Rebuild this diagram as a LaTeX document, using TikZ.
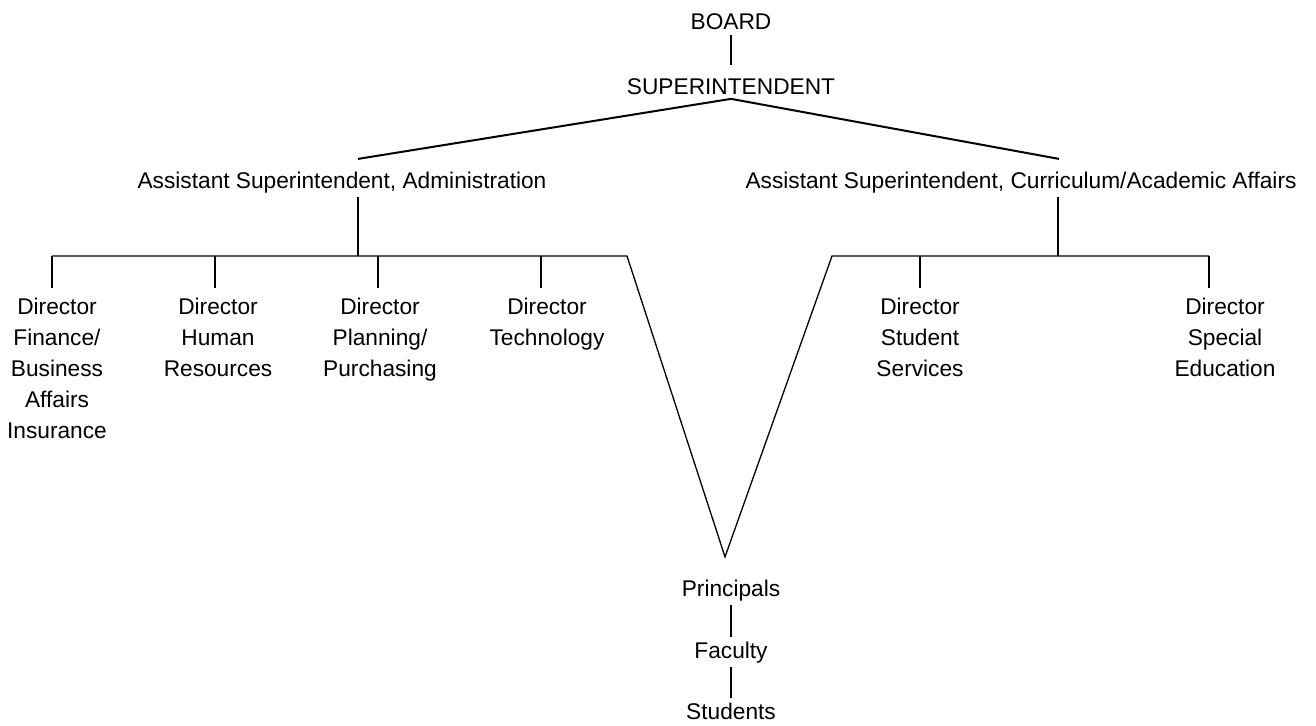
\documentclass[tikz,border=0pt]{standalone}
\usepackage{fontspec}
\setmainfont{Liberation Sans}

\begin{document}
\begin{tikzpicture}
  [x=1pt,y=-1pt,line width=1.3pt,
   every node/.style={inner sep=4pt,font=\fontsize{22.7}{31}\selectfont},
   post/.style={anchor=base},
   director/.style={anchor=north,align=center,inner ysep=9pt}]
  \useasboundingbox (0,0) rectangle (1316,725);

  \node[post] (board) at (731,30) {BOARD};
  \node[post] (super) at (731,94) {SUPERINTENDENT};
  \node[post] (admin) at (342,188) {Assistant Superintendent, Administration};
  \node[post] (curric) at (1021,188) {Assistant Superintendent, Curriculum/Academic Affairs};
  % directors under administration
  \node[director] (finance) at (57,288) {Director\\Finance/\\Business\\Affairs\\Insurance};
  \node[director] (hr) at (218,288) {Director\\Human\\Resources};
  \node[director] (planning) at (380,288) {Director\\Planning/\\Purchasing};
  \node[director] (tech) at (547,288) {Director\\Technology};
  % directors under curriculum
  \node[director] (studserv) at (920,288) {Director\\Student\\Services};
  \node[director] (specialed) at (1225,288) {Director\\Special\\Education};
  % schools
  \node[post] (princ) at (731,596) {Principals};
  \node[post] (faculty) at (731,658) {Faculty};
  \node[post] (students) at (731,719) {Students};

  \coordinate (aleft) at (52,256);
  \coordinate (aright) at (627,256);
  \coordinate (cleft) at (832,256);
  \coordinate (cright) at (1209,256);
  \coordinate (vtip) at ([xshift=-6pt,yshift=18pt]princ.north);

  \draw[shorten >=8pt] (board) -- (super);
  \draw[line width=2pt] (super.south) -- ([xshift=16pt,yshift=8pt]admin.north);
  \draw[line width=2pt] (super.south) -- ([xshift=38pt,yshift=8pt]curric.north);

  % stems down to the bars
  \path ([xshift=16pt]admin.south) coordinate (astem);
  \draw (astem) -- (astem |- aleft);
  \path ([xshift=37pt]curric.south) coordinate (cstem);
  \draw (cstem) -- (cstem |- cleft);

  % both bars, joined by the V down to the principals
  \draw (aleft) -- (aright) -- (vtip) -- (cleft) -- (cright);

  \foreach \n/\dx in {finance/-5pt,hr/-3pt,planning/-2pt,tech/-6pt}{
    \path ([xshift=\dx]\n.north) coordinate (drop);
    \draw (drop) -- (drop |- aleft);
  }
  \foreach \n/\dx in {studserv/0pt,specialed/-16pt}{
    \path ([xshift=\dx]\n.north) coordinate (drop);
    \draw (drop) -- (drop |- cleft);
  }

  \draw (princ) -- (faculty);
  \draw (faculty) -- (students);
\end{tikzpicture}
\end{document}
